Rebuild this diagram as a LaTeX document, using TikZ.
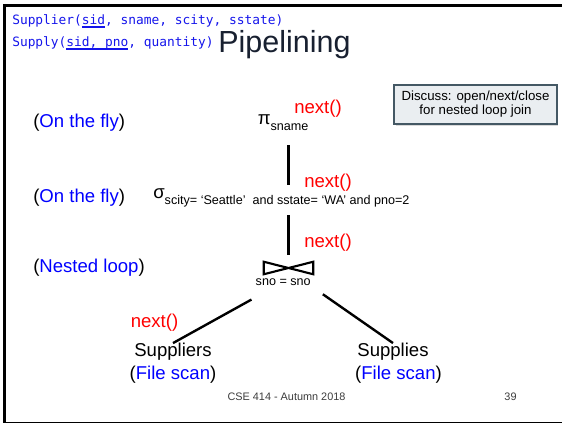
\documentclass[tikz,border=0pt]{standalone}
\usepackage{fontspec}
\setmainfont{Liberation Sans}
\setmonofont{DejaVu Sans Mono}
\usepackage{xcolor}
\usepackage{tikz}
\usetikzlibrary{positioning}
\usetikzlibrary{shadows}

\definecolor{titlenavy}{RGB}{24,32,48}
\definecolor{boxfill}{RGB}{234,238,241}
\definecolor{boxedge}{RGB}{68,88,100}
\definecolor{footgray}{RGB}{60,60,60}
\definecolor{schemablue}{RGB}{20,20,235}

% key attributes, underlined
\newcommand{\keyul}[1]{\setbox0\hbox{#1}\rlap{\rule[-2pt]{\wd0}{1.3pt}}\box0}
% operator with its subscript
\newcommand{\opsub}[2]{#1\raisebox{-4.2pt}{\fontsize{9.5}{11}\selectfont #2}}
% blue words in black brackets
\newcommand{\paren}[1]{(\textcolor{blue}{#1})}

\begin{document}
\begin{tikzpicture}[x=0.0265cm, y=-0.0265cm,
  lbl/.style={font=\fontsize{14}{16}\selectfont, inner sep=0pt},
  nxt/.style={lbl, text=red},
  edge/.style={line width=1.8pt},
  frame/.style={black, line width=2.2pt}]

\useasboundingbox (0,0) rectangle (562,424);

% frame
{
\draw[frame] (4.3,4) -- (4.3,422.5);
\draw[frame, line width=2pt] (3,5.3) -- (562,5.3);
\draw[frame, line width=1.5pt] (3,422.5) -- (562,422.5);
}

% schema and title
{
\node (schema1) at (12,25) [anchor=base west, inner sep=0pt, text=schemablue]
{\ttfamily\fontsize{9.7}{11}\selectfont Supplier(\keyul{sid}, sname, scity, sstate)};
\node (schema2) at (12,47) [anchor=base west, inner sep=0pt, text=schemablue]
{\ttfamily\fontsize{9.7}{11}\selectfont Supply(\keyul{sid, pno}, quantity)};
\node (title) at (218,53) [anchor=base west, inner sep=0pt, text=titlenavy]
{\fontsize{23}{27}\selectfont Pipelining};
}

% discuss box
\node (discuss) at (475.5,104.5) [draw=boxedge, line width=1.1pt, fill=boxfill,
  minimum width=122.6pt, minimum height=29.3pt, inner sep=0pt, align=center,
  drop shadow={opacity=0.3, shadow xshift=1pt, shadow yshift=-1.5pt},
  font=\fontsize{10}{10.5}\selectfont]
{Discuss: open/next/close\\for nested loop join};

% labellings
{
\node[lbl, anchor=west] (fly1) at (33,123) {\paren{On the fly}};
\node[lbl, anchor=west] (fly2) at (33,198) {\paren{On the fly}};
\node[lbl, anchor=west] (nested) at (33,268) {\paren{Nested loop}};
}

% plan
{
\node[lbl, anchor=base west] (proj) at (257.5,124.5) {\opsub{π}{sname}};
\node[lbl, anchor=base west] (sel) at (153,198.5)
{\opsub{σ}{scity= ‘Seattle’\ \ and sstate= ‘WA’ and pno=2}};

\node (join) at (288.5,268) [minimum width=36.9pt, minimum height=9pt, inner sep=0pt] {};
\draw[line width=1.6pt] (join.north west) -- (join.south east) -- (join.north east)
  -- (join.south west) -- cycle;
\node[inner sep=0pt, below=3.5pt of join, xshift=-4pt, font=\fontsize{9.5}{11}\selectfont]
  (joincond) {sno = sno};

\node[lbl] (suppliers) at (173,352) {Suppliers};
\node[lbl] (fscan1) at (173,375) {\paren{File scan}};
\node[lbl] (supplies) at (393,352) {Supplies};
\node[lbl] (fscan2) at (398.5,375) {\paren{File scan}};

\draw[edge, shorten <=11.3pt, shorten >=2.8pt] (proj.south -| join.north) -- (sel.north -| join.north);
\draw[edge, shorten <=6.2pt, shorten >=5.3pt] (sel.south -| join.north) -- (join.north);
\draw[edge] ([xshift=-3pt, yshift=-10pt]joincond.south west) -- (suppliers.north);
\draw[edge] ([xshift=9pt, yshift=-6pt]joincond.south east) -- (supplies.north);
}

% next() calls
{
\node[nxt] (next1) at (318,109) {next()};
\node[nxt] (next2) at (328,183) {next()};
\node[nxt] (next3) at (328,243) {next()};
\node[nxt] (next4) at (154.5,323) {next()};
}

% footer
\node (footer) at (286.5,397) [inner sep=0pt, text=footgray, font=\fontsize{8.2}{10}\selectfont]
{CSE 414 - Autumn 2018};
\node (pageno) at (510.5,397) [inner sep=0pt, text=footgray, font=\fontsize{8.2}{10}\selectfont]
{39};

\end{tikzpicture}
\end{document}
